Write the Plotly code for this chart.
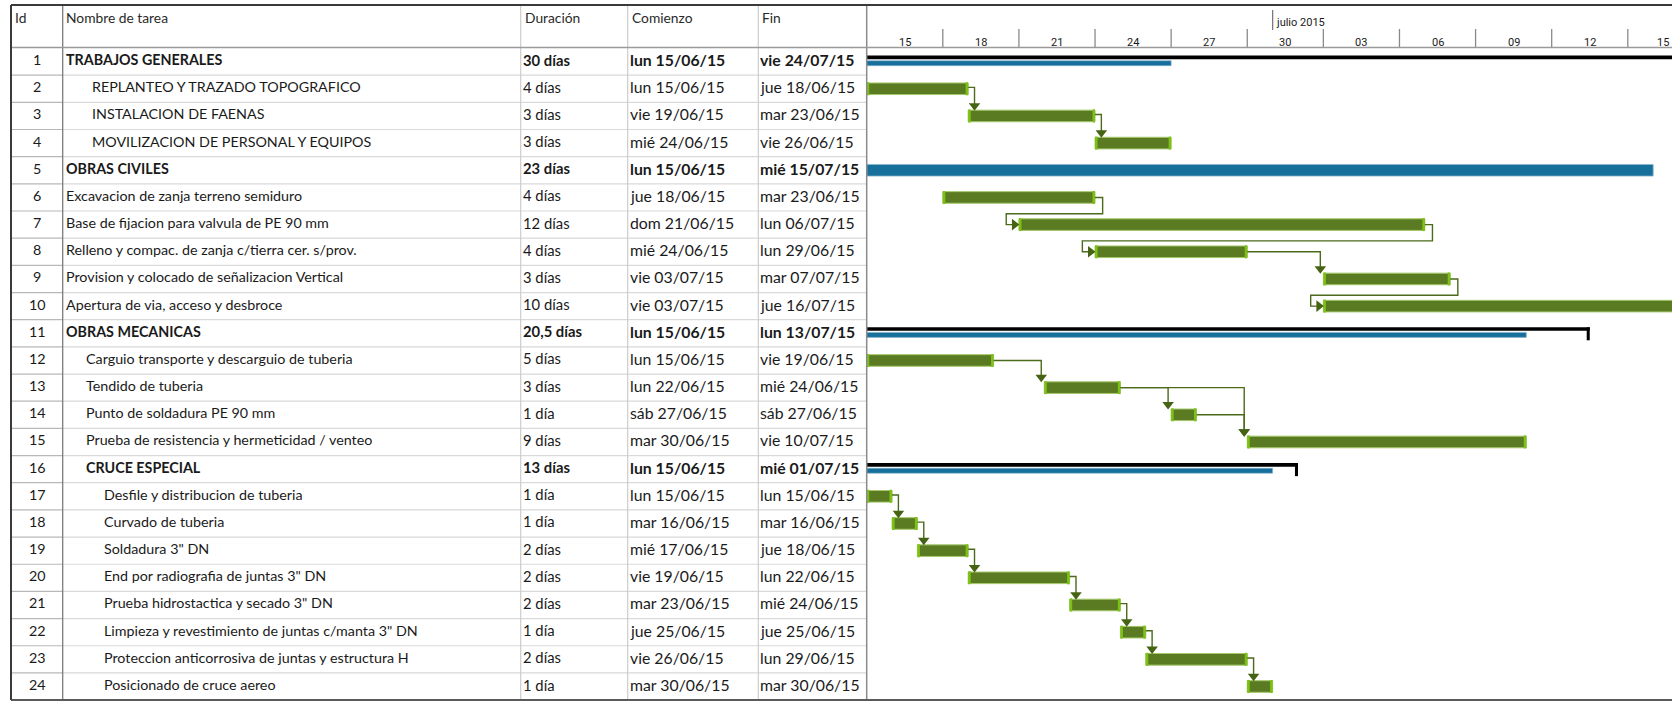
import pandas as pd
import plotly.graph_objects as go

# ---------------- data ----------------
task_ids = list(range(1, 25))
task_names = [
    "TRABAJOS GENERALES",
    "REPLANTEO Y TRAZADO TOPOGRAFICO",
    "INSTALACION DE FAENAS",
    "MOVILIZACION DE PERSONAL Y EQUIPOS",
    "OBRAS CIVILES",
    "Excavacion de zanja terreno semiduro",
    "Base de fijacion para valvula de PE 90 mm",
    "Relleno y compac. de zanja c/tierra cer. s/prov.",
    "Provision y colocado de señalizacion Vertical",
    "Apertura de via, acceso y desbroce",
    "OBRAS MECANICAS",
    "Carguio transporte y descarguio de tuberia",
    "Tendido de tuberia",
    "Punto de soldadura PE 90 mm",
    "Prueba de resistencia y hermeticidad / venteo",
    "CRUCE ESPECIAL",
    "Desfile y distribucion de tuberia",
    "Curvado de tuberia",
    "Soldadura 3\" DN",
    "End por radiografia de juntas 3\" DN",
    "Prueba hidrostactica y secado 3\" DN",
    "Limpieza y revestimiento de juntas c/manta 3\" DN",
    "Proteccion anticorrosiva de juntas y estructura H",
    "Posicionado de cruce aereo",
]
durations = ["30 días", "4 días", "3 días", "3 días", "23 días", "4 días", "12 días", "4 días",
             "3 días", "10 días", "20,5 días", "5 días", "3 días", "1 día", "9 días", "13 días",
             "1 día", "1 día", "2 días", "2 días", "2 días", "1 día", "2 días", "1 día"]
starts = ["lun 15/06/15", "lun 15/06/15", "vie 19/06/15", "mié 24/06/15", "lun 15/06/15",
          "jue 18/06/15", "dom 21/06/15", "mié 24/06/15", "vie 03/07/15", "vie 03/07/15",
          "lun 15/06/15", "lun 15/06/15", "lun 22/06/15", "sáb 27/06/15", "mar 30/06/15",
          "lun 15/06/15", "lun 15/06/15", "mar 16/06/15", "mié 17/06/15", "vie 19/06/15",
          "mar 23/06/15", "jue 25/06/15", "vie 26/06/15", "mar 30/06/15"]
finishes = ["vie 24/07/15", "jue 18/06/15", "mar 23/06/15", "vie 26/06/15", "mié 15/07/15",
            "mar 23/06/15", "lun 06/07/15", "lun 29/06/15", "mar 07/07/15", "jue 16/07/15",
            "lun 13/07/15", "vie 19/06/15", "mié 24/06/15", "sáb 27/06/15", "vie 10/07/15",
            "mié 01/07/15", "lun 15/06/15", "mar 16/06/15", "jue 18/06/15", "lun 22/06/15",
            "mié 24/06/15", "jue 25/06/15", "lun 29/06/15", "mar 30/06/15"]
summary_rows = [1, 5, 11, 16]
# rolled-up (blue) end of each summary row
rollup_finish = {1: "2015-06-27", 5: "2015-07-16", 11: "2015-07-11", 16: "2015-07-01"}
summary_with_line = [1, 11, 16]
links = [(2, 3), (3, 4), (6, 7), (7, 8), (8, 9), (9, 10), (12, 13), (13, 14), (13, 15),
         (14, 15), (17, 18), (18, 19), (19, 20), (20, 21), (21, 22), (22, 23), (23, 24)]
tick_labels = ["15", "18", "21", "24", "27", "30", "03", "06", "09", "12", "15"]
tick_dates = ["2015-06-15", "2015-06-18", "2015-06-21", "2015-06-24", "2015-06-27", "2015-06-30",
              "2015-07-03", "2015-07-06", "2015-07-09", "2015-07-12", "2015-07-15"]
month_label = "julio 2015"
month_date = "2015-07-01"
header = ["Id", "Nombre de tarea", "Duración", "Comienzo", "Fin"]

# ---------------- layout constants (pixels) ----------------
W, H = 1672, 703
COL = [11, 62.7, 520.7, 627.7, 758.3, 866.7]
ROW0, ROWH = 48.0, 27.17
PPD = 25.37
name_x = {1: 64, 5: 64, 6: 64, 7: 64, 8: 64, 9: 64, 10: 64, 11: 64,
          2: 89.6, 3: 89.6, 4: 89.6}
for r in range(12, 17):
    name_x[r] = 84.2
for r in range(17, 25):
    name_x[r] = 102.4

FONT = "Lato"
FS_NAME = 14.3
FS_DUR = 14.8
FS_DATE = 15.8
TEXT_SHIFT = 2
GREEN = "#5b7b22"
GREEN_CAP = "#7cc214"
GREEN_EDGE = "#a4c86a"
LINK = "#4b6a1a"
BLUE = "#17709b"

t0 = pd.Timestamp("2015-06-15")


def parse(s):
    d, m, y = s.split(" ")[1].split("/")
    return pd.Timestamp(2000 + int(y), int(m), int(d))


start_ts = [parse(s) for s in starts]
finish_ts = []
for f, d in zip(finishes, durations):
    extra = 0.5 if "," in d else 1.0
    finish_ts.append(parse(f) + pd.Timedelta(days=extra))


def dday(ts):
    return (ts - t0) / pd.Timedelta(days=1)


def from_day(d):
    return t0 + pd.Timedelta(days=d)


def ms(days):
    return days * 86400000.0


def py(p):  # pixel y -> paper
    return 1 - p / H


def px(p):  # pixel x -> paper
    return p / W


fig = go.Figure()
half = 5.8 / ROWH

# ---------- task bars ----------
task_rows = [i for i in task_ids if i not in summary_rows]
fig.add_trace(go.Bar(
    y=task_rows,
    base=[start_ts[i - 1] for i in task_rows],
    x=[ms(dday(finish_ts[i - 1]) - dday(start_ts[i - 1])) for i in task_rows],
    orientation="h", width=11.6 / ROWH,
    marker=dict(color=GREEN, line=dict(color=GREEN_EDGE, width=1)),
    hoverinfo="skip", showlegend=False))
cap = 0.1
fig.add_trace(go.Bar(
    y=task_rows + task_rows,
    base=[start_ts[i - 1] for i in task_rows] +
         [finish_ts[i - 1] - pd.Timedelta(days=cap) for i in task_rows],
    x=[ms(cap)] * (2 * len(task_rows)),
    orientation="h", width=13 / ROWH,
    marker=dict(color=GREEN_CAP, line=dict(width=0)),
    hoverinfo="skip", showlegend=False))

# ---------- summary bars ----------
line_rows = summary_with_line
fig.add_trace(go.Bar(
    y=[r - 4.25 / ROWH for r in line_rows],
    base=[start_ts[r - 1] for r in line_rows],
    x=[ms(dday(finish_ts[r - 1]) - dday(start_ts[r - 1])) for r in line_rows],
    orientation="h", width=3.6 / ROWH,
    marker=dict(color="black", line=dict(width=0)),
    hoverinfo="skip", showlegend=False))
fig.add_trace(go.Bar(
    y=[r + 0.5 / ROWH for r in line_rows],
    base=[finish_ts[r - 1] - pd.Timedelta(days=0.12) for r in line_rows],
    x=[ms(0.12)] * len(line_rows),
    orientation="h", width=13 / ROWH,
    marker=dict(color="black", line=dict(width=0)),
    hoverinfo="skip", showlegend=False))
fig.add_trace(go.Bar(
    y=[r + 1.6 / ROWH for r in line_rows],
    base=[start_ts[r - 1] for r in line_rows],
    x=[ms(dday(pd.Timestamp(rollup_finish[r])) - dday(start_ts[r - 1])) for r in line_rows],
    orientation="h", width=5 / ROWH,
    marker=dict(color=BLUE, line=dict(color="#8ab5cc", width=0.6)),
    hoverinfo="skip", showlegend=False))
thick = [r for r in summary_rows if r not in summary_with_line]
fig.add_trace(go.Bar(
    y=thick,
    base=[start_ts[r - 1] for r in thick],
    x=[ms(dday(pd.Timestamp(rollup_finish[r])) - dday(start_ts[r - 1])) for r in thick],
    orientation="h", width=11.6 / ROWH,
    marker=dict(color=BLUE, line=dict(color="#8ab5cc", width=0.8)),
    hoverinfo="skip", showlegend=False))

# ---------- links ----------
lx, ly = [], []
down_x, down_y, right_x, right_y = [], [], [], []
for p, s in links:
    pe = dday(finish_ts[p - 1])
    ss = dday(start_ts[s - 1])
    gap = ss - pe
    if gap > 0.5:
        xv = ss - 0.12
        ay = s - half - 4.5 / ROWH
        xs = [pe, xv, xv]
        ys = [p, p, ay]
        down_x.append(xv); down_y.append(ay)
    elif gap >= -0.05:
        xv = pe + 0.25
        ay = s - half - 4.5 / ROWH
        xs = [pe, xv, xv]
        ys = [p - 0.05, p - 0.05, ay]
        down_x.append(xv); down_y.append(ay)
    else:
        xr = pe + 0.3
        yb = p + 0.6
        xl = ss - 0.5
        axx = ss - 4.5 / PPD
        xs = [pe, xr, xr, xl, xl, axx]
        ys = [p, p, yb, yb, s, s]
        right_x.append(axx); right_y.append(s)
    lx += [from_day(v) for v in xs] + [None]
    ly += ys + [None]

fig.add_trace(go.Scatter(x=lx, y=ly, mode="lines", line=dict(color=LINK, width=1.4),
                         hoverinfo="skip", showlegend=False, connectgaps=False))
fig.add_trace(go.Scatter(x=[from_day(v) for v in down_x], y=down_y, mode="markers",
                         marker=dict(symbol="triangle-down", size=10, color="#466314"),
                         hoverinfo="skip", showlegend=False))
fig.add_trace(go.Scatter(x=[from_day(v) for v in right_x], y=right_y, mode="markers",
                         marker=dict(symbol="triangle-right", size=10, color="#466314"),
                         hoverinfo="skip", showlegend=False))

# ---------- shapes (table grid & header) ----------
shapes = []


def pline(x0, y0, x1, y1, color, width):
    shapes.append(dict(type="line", xref="paper", yref="paper",
                       x0=px(x0), x1=px(x1), y0=py(y0), y1=py(y1),
                       line=dict(color=color, width=width), layer="above"))


for k in range(1, 24):
    yb = ROW0 + k * ROWH
    pline(COL[1], yb, COL[5], yb, "#d9d9d9", 1.2)
    pline(COL[0], yb, COL[1], yb, "#b8b8b8", 1.2)
pline(COL[1], 5, COL[1], 700, "#7c7c7c", 1.3)
for c in COL[2:5]:
    pline(c, 5, c, 700, "#cdcdcd", 1.2)
pline(COL[5], 5, COL[5], 700, "#8a8a8a", 1.5)
pline(COL[0], 47.5, W, 47.5, "#9a9a9a", 1.6)
pline(COL[0], 5, W, 5, "#3a3a3a", 2)
pline(COL[0], 700, W, 700, "#5a5a5a", 2)
pline(COL[0], 5, COL[0], 700, "#3a3a3a", 2)

# timescale ticks
for d in tick_dates[1:]:
    shapes.append(dict(type="line", xref="x", yref="paper", x0=d, x1=d,
                       y0=py(29), y1=py(47), line=dict(color="#8a8a8a", width=1.3)))
shapes.append(dict(type="line", xref="x", yref="paper", x0=month_date, x1=month_date,
                   y0=py(10), y1=py(30), line=dict(color="#7a7a7a", width=1.3)))

# ---------- annotations ----------
ann = []
hdr_x = [13, 64, 523, 630, 760]
for t, xx in zip(header, hdr_x):
    ann.append(dict(text=t, xref="paper", yref="paper", x=px(xx), y=py(18),
                    xanchor="left", yanchor="middle", showarrow=False,
                    font=dict(family=FONT, size=13.8, color="#2a2a2a")))

for i in task_ids:
    b = i in summary_rows

    def cell(text, xx, size):
        t = f"<b>{text}</b>" if b else text
        ann.append(dict(text=t, xref="paper", yref="y", x=px(xx), y=i,
                        xanchor="left", yanchor="middle", yshift=TEXT_SHIFT, showarrow=False,
                        font=dict(family=FONT, size=size, color="#1a1a1a")))
    ann.append(dict(text=str(i), xref="paper", yref="y", x=px(37), y=i,
                    xanchor="center", yanchor="middle", yshift=TEXT_SHIFT, showarrow=False,
                    font=dict(family=FONT, size=FS_NAME, color="#1a1a1a")))
    cell(task_names[i - 1], name_x[i], FS_NAME)
    cell(durations[i - 1], 521, FS_DUR)
    cell(starts[i - 1], 628, FS_DATE)
    cell(finishes[i - 1], 758, FS_DATE)

x_right = t0 + pd.Timedelta(days=(W - COL[5]) / PPD)
for lab, d in zip(tick_labels, tick_dates):
    cx = pd.Timestamp(d) + pd.Timedelta(days=1.5)
    if cx + pd.Timedelta(days=0.35) > x_right:
        ann.append(dict(text=lab, xref="x", yref="paper", x=x_right, y=py(43),
                        xanchor="right", xshift=-1, yanchor="middle", showarrow=False,
                        font=dict(family="Roboto", size=11, color="#1a1a1a")))
    else:
        ann.append(dict(text=lab, xref="x", yref="paper", x=cx, y=py(43),
                        xanchor="center", yanchor="middle", showarrow=False,
                        font=dict(family="Roboto", size=11, color="#1a1a1a")))
ann.append(dict(text=month_label, xref="x", yref="paper", x=month_date, y=py(22),
                xanchor="left", xshift=1, yanchor="middle", showarrow=False,
                font=dict(family="Roboto", size=11, color="#1a1a1a")))

fig.update_layout(
    width=W, height=H, margin=dict(l=0, r=0, t=0, b=0),
    paper_bgcolor="white", plot_bgcolor="white",
    barmode="overlay", showlegend=False,
    xaxis=dict(type="date", domain=[COL[5] / W, 1], range=[t0, x_right],
               visible=False, fixedrange=True),
    yaxis=dict(range=[(H - ROW0) / ROWH + 0.5, (0 - ROW0) / ROWH + 0.5],
               domain=[0, 1], visible=False, fixedrange=True),
    shapes=shapes, annotations=ann,
)
fig.write_html("out.html", config={"displayModeBar": False},
               post_script="document.body.style.margin='0';document.body.style.overflow='hidden';")
